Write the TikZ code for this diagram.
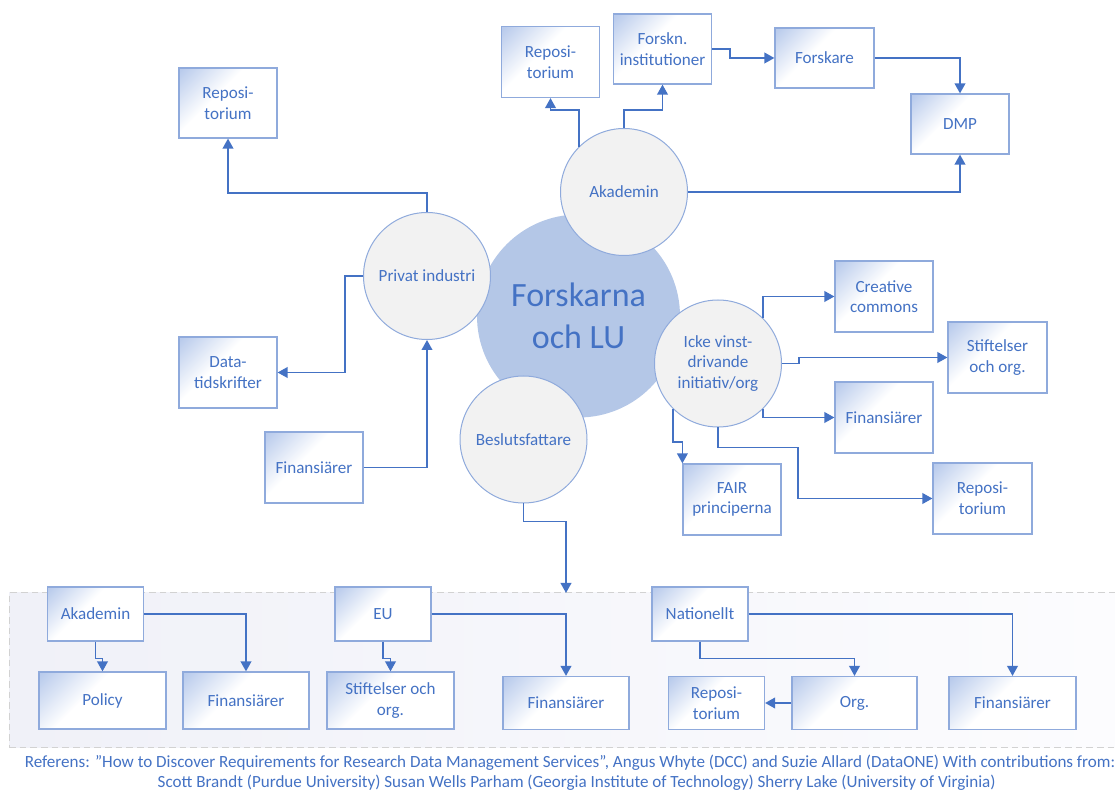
\documentclass[tikz,border=0pt]{standalone}
\usepackage{fontspec}
\setmainfont{Carlito}
\usetikzlibrary{arrows.meta,calc}

\definecolor{accent}{HTML}{4472C4}
\definecolor{edgeblue}{HTML}{8FAADC}
\definecolor{boxtintc}{HTML}{B9CBEC}
\definecolor{discfill}{HTML}{F2F2F2}
\definecolor{corefill}{HTML}{B4C7E7}
\definecolor{regionl}{HTML}{F0F1F8}
\definecolor{regionr}{HTML}{FCFCFE}
\definecolor{dashgray}{HTML}{D2D2D2}

% light tint in the upper left corner of each box, fading to white
\pgfdeclarehorizontalshading{boxtint}{100bp}{color(0bp)=(boxtintc); color(16bp)=(boxtintc); color(42bp)=(white); color(100bp)=(white)}

\tikzset{
  lbl/.style={text=accent, align=center, font=\fontsize{12.8}{15.5}\selectfont},
  bx/.style 2 args={lbl, draw=edgeblue, line width=0.9pt, shade, shading=boxtint,
    shading angle=-45, minimum width=#1*0.75pt, minimum height=#2*0.75pt, inner sep=0pt},
  disc/.style={lbl, circle, draw=edgeblue, line width=0.75pt, fill=discfill,
    minimum size=127*0.75pt, inner sep=0pt},
  conn/.style={draw=accent, line width=1.25pt, -{Triangle[length=7.5pt,width=8pt]}},
}

\begin{document}
\begin{tikzpicture}[x=0.75pt,y=-0.75pt]
\useasboundingbox (0,0) rectangle (1115,791);

% policy-level band at the bottom
\node[draw=dashgray, line width=0.75pt, dash pattern=on 5pt off 3pt,
      left color=regionl, right color=regionr,
      minimum width=1111*0.75pt, minimum height=154*0.75pt, inner sep=0pt]
      (niv) at (564.5,670) {};
\coordinate (nivin) at (566,593);

% central actor
\node[circle, fill=corefill, minimum size=203*0.75pt, inner sep=0pt,
      text=accent, align=center, font=\fontsize{25.5}{31.5}\selectfont]
      (core) at (578.5,316) {Forskarna\\och LU};

% actor groups
\node[disc] (aka) at (624,192)   {Akademin};
\node[disc] (pi)  at (427,276)   {Privat industri};
\node[disc] (ick) at (718,363.5) {Icke vinst-\\drivande\\initiativ/org};
\node[disc] (bf)  at (523.5,439.5) {Beslutsfattare};

% academia
\node[bx={98}{71}] (ra)  at (550.5,62)  {Reposi-\\torium};
\node[bx={98}{70}] (fi)  at (662.5,49)  {Forskn.\\institutioner};
\node[bx={99}{60}] (fo)  at (824.5,58)  {Forskare};
\node[bx={98}{60}] (dmp) at (960,124)   {DMP};

% private industry
\node[bx={98}{70}] (rl) at (228,103)   {Reposi-\\torium};
\node[bx={98}{71}] (dt) at (228,372.5) {Data-\\tidskrifter};
\node[bx={98}{71}] (fl) at (314,467.5) {Finansiärer};

% non-profit initiatives
\node[bx={98}{71}] (cc)   at (884,296.5) {Creative\\commons};
\node[bx={99}{71}] (st)   at (997.5,357.5) {Stiftelser\\och org.};
\node[bx={98}{71}] (fr)   at (884,417.5) {Finansiärer};
\node[bx={98}{71}] (fair) at (732,499.5) {FAIR\\principerna};
\node[bx={99}{71}] (rr)   at (982.5,498.5) {Reposi-\\torium};

% decision makers
\node[bx={96}{54}]  (ak2)  at (95.5,614)  {Akademin};
\node[bx={127}{57}] (pol)  at (102.5,700.5) {Policy};
\node[bx={126}{57}] (fin1) at (246,700.5) {Finansiärer};
\node[bx={96}{54}]  (eu)   at (383,614)   {EU};
\node[bx={127}{57}] (sti)  at (390.5,700.5) {Stiftelser och\\org.};
\node[bx={126}{53}] (fin2) at (566,703)   {Finansiärer};
\node[bx={96}{54}]  (nat)  at (700,614)   {Nationellt};
\node[bx={96}{53}]  (rep)  at (716.5,703) {Reposi-\\torium};
\node[bx={125}{53}] (org)  at (854.5,703) {Org.};
\node[bx={127}{53}] (fin3) at (1012.5,703) {Finansiärer};

% connectors: academia
\draw[conn] (aka.north west) -- (aka.north west |- 0,110) -| (ra.south);
\draw[conn] (aka.north) -- (aka.north |- 0,110) -| (fi.south);
\draw[conn] (fi.east) -- ++(18,0) |- (fo.west);
\draw[conn] (fo.east) -| (dmp.north);
\draw[conn] (aka.east) -| (dmp.south);

% connectors: private industry
\draw[conn] (pi.north) -- ++(0,-19) -| (rl.south);
\draw[conn] (pi.west) -- ++(-18,0) |- (dt.east);
\draw[conn] (fl.east) -| (pi.south);

% connectors: non-profit initiatives
\draw[conn] (ick.north east) |- (cc.west);
\draw[conn] (ick.east) -- ++(17,0) |- (st.west);
\draw[conn] (ick.south east) |- (fr.west);
\draw[conn] (ick.south west) -- ++(0,33) -| (fair.north west);
\draw[conn] (ick.south) -- ++(0,20) -| ++(80,51) |- (rr.west);

% connectors: decision makers
\draw[conn] (bf.south) -- ++(0,18) -| (nivin);
\draw[conn] (ak2.south) -- ++(0,17) -| (pol.north);
\draw[conn] (ak2.east) -| (fin1.north);
\draw[conn] (eu.south) -- ++(0,17) -| (sti.north);
\draw[conn] (eu.east) -| (fin2.north);
\draw[conn] (nat.south) -- ++(0,17) -| (org.north);
\draw[conn] (nat.east) -| (fin3.north);
\draw[conn] (org.west) -- (rep.east);

% source note
\node[lbl, font=\fontsize{12.8}{15}\selectfont] (src) at (570,773)
  {Referens: ”How to Discover Requirements for Research Data Management Services”, Angus Whyte (DCC) and Suzie Allard (DataONE) With contributions from:\\
   \hspace*{10pt}Scott Brandt (Purdue University) Susan Wells Parham (Georgia Institute of Technology) Sherry Lake (University of Virginia)};
\end{tikzpicture}
\end{document}
